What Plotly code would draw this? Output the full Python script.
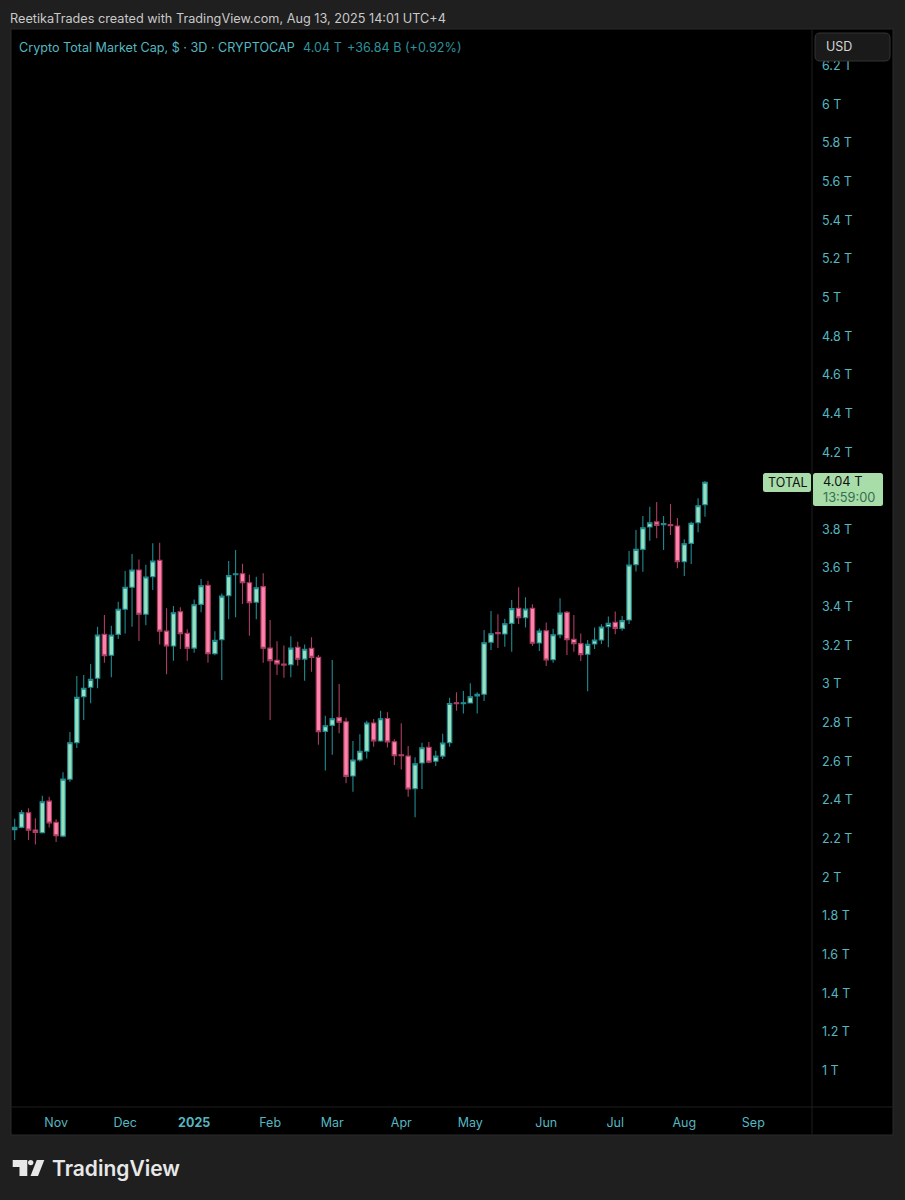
import pandas as pd
import plotly.graph_objects as go

dates = pd.date_range("2024-10-15", periods=101, freq="3D")

opens = [2.246,2.258,2.334,2.244,2.230,2.394,2.284,2.213,2.507,2.696,
2.934,2.983,3.030,3.257,3.149,3.257,3.387,3.501,3.590,3.361,
3.555,3.640,3.274,3.197,3.374,3.262,3.186,3.412,3.511,3.157,
3.229,3.457,3.566,3.571,3.524,3.423,3.504,3.186,3.123,3.104,
3.100,3.190,3.129,3.185,3.138,2.755,2.786,2.826,2.805,2.524,
2.607,2.652,2.798,2.705,2.822,2.701,2.634,2.627,2.458,2.591,
2.672,2.600,2.627,2.696,2.903,2.898,2.902,2.938,2.947,3.216,
3.266,3.259,3.314,3.392,3.343,3.392,3.212,3.276,3.126,3.255,
3.371,3.231,3.209,3.154,3.207,3.228,3.297,3.319,3.288,3.331,
3.617,3.697,3.813,3.839,3.825,3.825,3.818,3.633,3.728,3.835,3.928]

closes = [2.258,2.334,2.244,2.232,2.391,2.281,2.215,2.508,2.696,2.931,
2.978,3.024,3.254,3.146,3.254,3.387,3.501,3.590,3.361,3.554,
3.637,3.274,3.197,3.369,3.260,3.185,3.410,3.509,3.157,3.226,
3.455,3.561,3.571,3.524,3.421,3.498,3.185,3.121,3.104,3.098,
3.186,3.128,3.180,3.138,2.753,2.784,2.820,2.802,2.522,2.607,
2.652,2.798,2.705,2.820,2.700,2.629,2.629,2.457,2.587,2.670,
2.596,2.627,2.695,2.899,2.898,2.903,2.934,2.947,3.214,3.260,
3.260,3.312,3.390,3.343,3.388,3.211,3.274,3.124,3.255,3.367,
3.229,3.209,3.152,3.205,3.228,3.295,3.314,3.288,3.328,3.616,
3.697,3.809,3.835,3.821,3.830,3.819,3.633,3.726,3.832,3.923,4.044]

highs = [2.303,2.348,2.357,2.305,2.422,2.417,2.300,2.543,2.752,3.041,
3.047,3.104,3.297,3.357,3.302,3.426,3.585,3.673,3.645,3.617,
3.728,3.731,3.392,3.404,3.397,3.283,3.438,3.543,3.535,3.273,
3.469,3.637,3.694,3.623,3.566,3.555,3.573,3.331,3.221,3.200,
3.247,3.219,3.205,3.242,3.150,2.836,3.124,3.000,2.826,2.705,
2.740,2.810,2.819,2.862,2.854,2.714,2.797,2.679,2.621,2.696,
2.700,2.655,2.743,2.929,2.957,2.964,3.004,2.957,3.280,3.378,
3.361,3.338,3.435,3.501,3.449,3.413,3.288,3.319,3.286,3.444,
3.378,3.357,3.262,3.228,3.293,3.309,3.350,3.376,3.352,3.688,
3.797,3.870,3.918,3.942,3.870,3.932,3.859,3.749,3.840,3.961,4.051]

lows = [2.193,2.253,2.193,2.170,2.227,2.258,2.182,2.207,2.494,2.669,
2.814,2.900,2.978,3.110,3.035,3.233,3.262,3.297,3.223,3.304,
3.487,3.205,3.050,3.121,3.181,3.121,3.162,3.371,3.110,3.149,
3.021,3.335,3.345,3.414,3.250,3.335,3.110,2.814,3.047,3.033,
3.035,3.095,3.017,3.064,2.686,2.553,2.634,2.745,2.486,2.443,
2.598,2.615,2.675,2.701,2.672,2.581,2.558,2.417,2.310,2.457,
2.590,2.576,2.612,2.675,2.862,2.848,2.900,2.848,2.912,3.176,
3.186,3.193,3.167,3.311,3.293,3.197,3.171,3.093,3.110,3.237,
3.150,3.167,3.119,2.962,3.181,3.207,3.190,3.257,3.276,3.311,
3.583,3.581,3.742,3.754,3.694,3.771,3.599,3.559,3.621,3.785,3.866]

x_tick_dates = ["2024-11-02","2024-12-02","2025-01-01","2025-02-03","2025-03-02",
                "2025-04-01","2025-05-01","2025-06-03","2025-07-03","2025-08-02","2025-09-01"]
x_tick_text = ["Nov","Dec","<b>2025</b>","Feb","Mar","Apr","May","Jun","Jul","Aug","Sep"]
y_tick_vals = [1,1.2,1.4,1.6,1.8,2,2.2,2.4,2.6,2.8,3,3.2,3.4,3.6,3.8,4,4.2,4.4,4.6,4.8,5,5.2,5.4,5.6,5.8,6,6.2]
y_tick_text = ["1 T","1.2 T","1.4 T","1.6 T","1.8 T","2 T","2.2 T","2.4 T","2.6 T","2.8 T","3 T",
               "3.2 T","3.4 T","3.6 T","3.8 T","4 T","4.2 T","4.4 T","4.6 T","4.8 T","5 T",
               "5.2 T","5.4 T","5.6 T","5.8 T","6 T","6.2 T"]

FONT = "Inter, Roboto, Arial, sans-serif"
TEAL = "#55b7c1"
PL, PR, PT, PB = 11, 812, 29, 1107

def px(x):
    return (x - PL) / (PR - PL)

def py(y):
    return (PB - y) / (PB - PT)

def rrect(x0, y0, x1, y1, r):
    a, b, c, d = px(x0), px(x1), py(y0), py(y1)
    rx, ry = r / (PR - PL), r / (PB - PT)
    return (f"M{a+rx},{c} L{b-rx},{c} Q{b},{c} {b},{c-ry} L{b},{d+ry} Q{b},{d} {b-rx},{d} "
            f"L{a+rx},{d} Q{a},{d} {a},{d+ry} L{a},{c-ry} Q{a},{c} {a+rx},{c} Z")

def poly(points):
    return "M" + " L".join(f"{px(x)},{py(y)}" for x, y in points) + " Z"

fig = go.Figure(go.Candlestick(
    x=dates, open=opens, high=highs, low=lows, close=closes,
    increasing=dict(fillcolor="#96e0c0", line=dict(color="#1f8a90", width=1.1)),
    decreasing=dict(fillcolor="#ff82aa", line=dict(color="#a93d63", width=1.1)),
    whiskerwidth=0, hoverinfo="skip", showlegend=False,
))

def note(x, y, text, color, size=13, anchor="left", weight=None):
    fig.add_annotation(xref="paper", yref="paper", x=px(x - 1), y=py(y), text=text, showarrow=False,
                       xanchor=anchor, yanchor="middle", align="left", borderpad=0,
                       font=dict(family=FONT, size=size, color=color, weight=weight))

note(10, 19, "ReetikaTrades created with TradingView.com, Aug 13, 2025 14:01 UTC+4", "#c9c9c9", 12.7)
note(19, 47.5, "Crypto Total Market Cap, $ · 3D · CRYPTOCAP", TEAL, 12.6)
note(303, 47.5, "4.04 T", "#2e929c", 12.6)
note(347, 47.5, "+36.84 B (+0.92%)", "#2e929c", 12.6)
note(826, 47, "USD", "#d5d5d5", 12.5)
note(768, 482.5, "TOTAL", "#111111", 12.5)
note(823, 481.5, "4.04 T", "#111111", 12.8)
note(823, 497.5, "13:59:00", "#35704f", 12.8)
note(52, 1168, "TradingView", "#e8e8e8", 21, weight=600)

def shape(**kw):
    return dict(xref="paper", yref="paper", **kw)

shapes = [
    shape(type="rect", layer="below", x0=px(11), x1=px(893), y0=py(29), y1=py(1135),
          fillcolor="#000000", line=dict(color="#2b2b2b", width=1)),
    shape(type="line", layer="above", x0=px(812), x1=px(812), y0=py(29), y1=py(1135),
          line=dict(color="#1f1f1f", width=1)),
    shape(type="line", layer="above", x0=px(11), x1=px(893), y0=py(1107), y1=py(1107),
          line=dict(color="#1f1f1f", width=1)),
    shape(type="path", layer="above", path=rrect(815, 33, 890, 61, 5),
          fillcolor="#1a1a1a", line=dict(color="#333333", width=1)),
    shape(type="path", layer="above", path=rrect(763, 473, 811, 492, 2.5),
          fillcolor="#a8dca8", line=dict(width=0)),
    shape(type="path", layer="above", path=rrect(813, 473, 883, 506, 2.5),
          fillcolor="#a8dca8", line=dict(width=0)),
    shape(type="path", layer="above", fillcolor="#e8e8e8", line=dict(width=0),
          path=poly([(12.7,1160),(27.3,1160),(27.3,1176),(19.5,1176),(19.5,1167),(12.7,1167)])),
    shape(type="circle", layer="above", x0=px(28), x1=px(33.4), y0=py(1160), y1=py(1165.2),
          fillcolor="#e8e8e8", line=dict(width=0)),
    shape(type="path", layer="above", fillcolor="#e8e8e8", line=dict(width=0),
          path=poly([(36.8,1160),(44.3,1160),(38,1176),(30.5,1176)])),
]

fig.update_layout(
    width=905, height=1200, autosize=False,
    margin=dict(l=PL, r=905 - PR, t=PT, b=1200 - PB, pad=0),
    paper_bgcolor="#1f1f1f", plot_bgcolor="#000000",
    boxgap=0.35, boxgroupgap=0, showlegend=False, shapes=shapes,
    font=dict(family=FONT, size=13, color=TEAL),
    xaxis=dict(type="date", range=["2024-10-13 09:30", "2025-09-26 12:00"], rangeslider=dict(visible=False),
               tickmode="array", tickvals=x_tick_dates, ticktext=x_tick_text, showgrid=False,
               zeroline=False, showline=False, ticks="", tickangle=0, ticklabelstandoff=6,
               tickfont=dict(family=FONT, size=12.5, color=TEAL)),
    yaxis=dict(side="right", range=[0.811, 6.390], tickmode="array", tickvals=y_tick_vals,
               ticktext=y_tick_text, showgrid=False, zeroline=False, showline=False, ticks="",
               ticklabelstandoff=9, tickfont=dict(family=FONT, size=12.5, color=TEAL)),
)

fig.write_html("out.html", config=dict(displayModeBar=False, staticPlot=True),
               post_script="document.body.style.margin='0';document.body.style.background='#1f1f1f';")
